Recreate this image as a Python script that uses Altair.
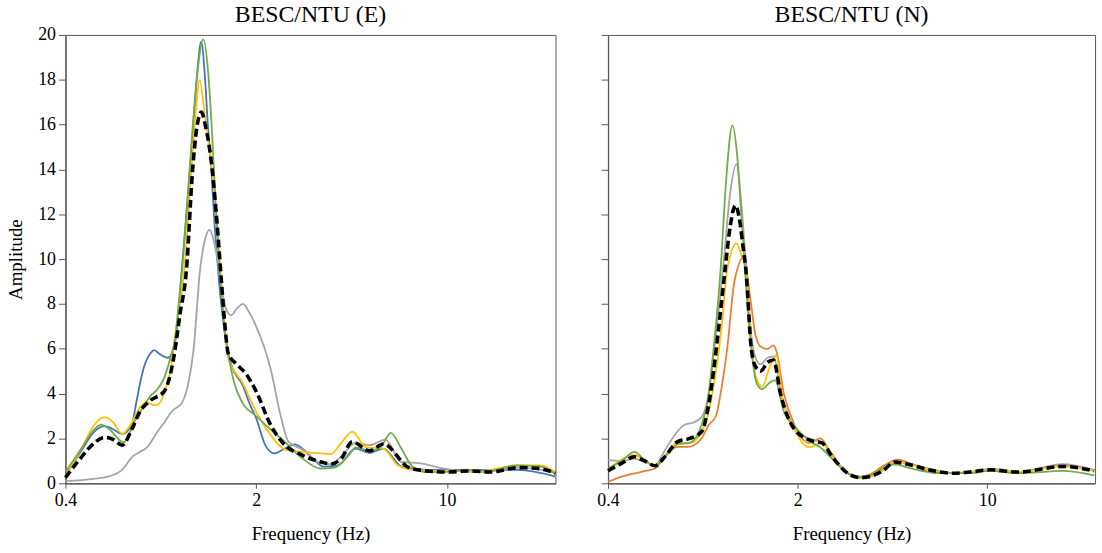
import altair as alt
import pandas as pd

# ---------------- data ----------------
# Panel E
E_blue_f = [0.40, 0.46, 0.51, 0.556, 0.60, 0.645, 0.70, 0.727, 0.772, 0.82, 0.845, 0.89, 0.95, 1.01, 1.06, 1.11, 1.17, 1.21, 1.258, 1.30, 1.33, 1.37, 1.40, 1.44, 1.48, 1.53, 1.58, 1.63, 1.78, 1.9, 2.0, 2.16, 2.33, 2.55, 2.77, 3.0, 3.23, 3.54, 3.99, 4.63, 5.21, 5.85, 6.81, 8.43, 11.4, 18.3, 25.0]
E_blue_a = [0.35, 1.5, 2.3, 2.55, 2.4, 2.2, 2.6, 3.6, 5.1, 5.8, 5.94, 5.75, 5.6, 6.3, 9.1, 12.0, 15.5, 18.0, 19.7, 18.0, 16.0, 14.0, 12.0, 10.0, 8.3, 6.8, 5.8, 5.2, 4.4, 3.5, 2.9, 1.7, 1.33, 1.55, 1.74, 1.48, 1.1, 0.74, 0.8, 1.55, 1.35, 1.55, 0.75, 0.6, 0.6, 0.6, 0.3]

E_green_f = [0.40, 0.46, 0.51, 0.54, 0.58, 0.654, 0.72, 0.77, 0.82, 0.87, 0.92, 0.97, 1.01, 1.04, 1.07, 1.14, 1.20, 1.28, 1.33, 1.38, 1.42, 1.47, 1.52, 1.58, 1.66, 1.78, 2.0, 2.26, 2.55, 2.96, 3.44, 3.87, 4.37, 4.63, 5.21, 5.7, 6.23, 6.81, 7.48, 8.43, 9.8, 12.1, 14.4, 17.8, 21.96, 25.0]
E_green_a = [0.5, 1.6, 2.4, 2.62, 2.4, 1.82, 2.8, 3.4, 3.9, 4.2, 4.7, 5.6, 6.5, 8.0, 9.5, 14.0, 17.5, 19.8, 18.5, 15.5, 12.5, 9.5, 7.3, 5.8, 4.5, 3.6, 3.0, 2.4, 1.85, 1.1, 0.66, 0.7, 1.25, 1.6, 1.45, 1.6, 2.25, 1.55, 0.74, 0.5, 0.5, 0.6, 0.55, 0.8, 0.75, 0.4]

E_yellow_f = [0.40, 0.46, 0.51, 0.556, 0.60, 0.645, 0.70, 0.75, 0.795, 0.84, 0.87, 0.92, 0.97, 1.02, 1.09, 1.15, 1.20, 1.24, 1.30, 1.38, 1.44, 1.49, 1.53, 1.58, 1.78, 2.0, 2.26, 2.55, 2.96, 3.44, 3.76, 4.1, 4.5, 5.06, 5.85, 6.61, 7.48, 9.8, 13.2, 18.3, 21.96, 25.0]
E_yellow_a = [0.3, 1.6, 2.6, 2.95, 2.7, 2.2, 2.7, 3.4, 3.6, 3.5, 3.5, 4.0, 5.0, 7.0, 9.5, 13.5, 16.5, 18.0, 16.3, 13.8, 11.3, 9.0, 7.2, 5.6, 4.5, 3.2, 2.15, 1.5, 1.4, 1.33, 1.3, 1.8, 2.3, 1.6, 1.55, 0.8, 0.6, 0.55, 0.55, 0.8, 0.8, 0.5]

E_gray_f = [0.40, 0.508, 0.573, 0.645, 0.706, 0.75, 0.795, 0.87, 0.92, 0.98, 1.07, 1.13, 1.18, 1.245, 1.30, 1.35, 1.40, 1.45, 1.50, 1.56, 1.62, 1.70, 1.79, 1.89, 2.0, 2.26, 2.46, 2.63, 2.96, 3.44, 3.76, 4.1, 4.63, 5.21, 5.95, 6.81, 7.93, 9.8, 13.2, 18.3, 25.0]
E_gray_a = [0.1, 0.2, 0.3, 0.6, 1.2, 1.4, 1.6, 2.3, 2.7, 3.2, 3.6, 4.5, 6.0, 9.5, 10.9, 11.3, 10.8, 9.8, 8.6, 7.7, 7.5, 7.8, 8.0, 7.6, 7.0, 5.1, 3.0, 1.85, 1.5, 0.9, 0.85, 1.2, 1.8, 1.7, 1.95, 0.95, 0.9, 0.65, 0.5, 0.7, 0.5]

E_mean_f = [0.40, 0.46, 0.51, 0.556, 0.60, 0.645, 0.70, 0.75, 0.82, 0.92, 1.01, 1.05, 1.11, 1.17, 1.21, 1.26, 1.30, 1.38, 1.44, 1.49, 1.53, 1.58, 1.70, 1.83, 2.0, 2.26, 2.55, 2.96, 3.44, 3.76, 4.1, 4.5, 5.21, 5.85, 7.26, 8.43, 10.0, 12.1, 14.4, 18.3, 21.96, 25.0]
E_mean_a = [0.25, 1.2, 1.8, 2.05, 1.95, 1.7, 2.4, 3.2, 3.7, 4.1, 6.0, 7.5, 9.5, 14.0, 15.8, 16.56, 16.0, 14.0, 11.5, 9.1, 7.3, 5.8, 5.3, 4.9, 4.1, 2.6, 1.7, 1.25, 0.96, 0.86, 1.1, 1.85, 1.45, 1.75, 0.7, 0.55, 0.5, 0.55, 0.5, 0.7, 0.65, 0.45]

# Panel N
N_orange_f = [0.40, 0.45, 0.50, 0.55, 0.596, 0.65, 0.72, 0.787, 0.885, 0.94, 1.0, 1.04, 1.10, 1.17, 1.27, 1.33, 1.40, 1.46, 1.55, 1.63, 1.67, 1.78, 1.95, 2.2, 2.43, 2.61, 3.02, 3.4, 3.7, 4.17, 4.69, 5.4, 6.4, 7.48, 10.3, 13.0, 19.0, 24.8]
N_orange_a = [0.07, 0.3, 0.44, 0.55, 0.66, 1.2, 1.62, 1.62, 2.0, 2.6, 3.0, 4.0, 6.0, 9.0, 10.1, 8.5, 6.6, 6.1, 6.0, 6.15, 5.9, 4.0, 2.6, 1.8, 2.0, 1.5, 0.5, 0.3, 0.4, 0.8, 1.05, 0.8, 0.45, 0.45, 0.55, 0.5, 0.8, 0.55]

N_yellow_f = [0.40, 0.50, 0.596, 0.72, 0.80, 0.885, 0.94, 1.0, 1.05, 1.10, 1.19, 1.24, 1.29, 1.35, 1.40, 1.48, 1.58, 1.67, 1.75, 1.95, 2.2, 2.46, 2.68, 3.02, 3.4, 3.7, 4.17, 4.55, 5.1, 6.1, 7.48, 8.6, 10.3, 13.0, 19.0, 24.8]
N_yellow_a = [0.6, 1.25, 0.78, 1.8, 1.8, 2.3, 3.2, 5.0, 7.0, 9.5, 10.7, 10.2, 9.5, 6.2, 4.8, 4.3, 5.2, 5.7, 4.0, 2.4, 1.6, 1.8, 1.2, 0.5, 0.25, 0.3, 0.6, 0.95, 0.85, 0.6, 0.45, 0.5, 0.6, 0.5, 0.75, 0.55]

N_green_f = [0.40, 0.45, 0.50, 0.545, 0.596, 0.65, 0.72, 0.80, 0.885, 0.94, 0.98, 1.04, 1.09, 1.15, 1.20, 1.24, 1.28, 1.35, 1.42, 1.48, 1.58, 1.65, 1.78, 2.0, 2.2, 2.43, 2.68, 3.02, 3.4, 3.7, 4.17, 4.55, 5.1, 6.1, 7.48, 8.6, 10.3, 13.0, 19.0, 24.8]
N_green_a = [0.66, 1.0, 1.4, 1.05, 0.78, 1.2, 1.73, 1.8, 2.6, 4.0, 6.0, 9.5, 13.5, 15.96, 14.5, 12.0, 9.5, 6.0, 4.4, 4.2, 4.5, 4.6, 3.2, 2.4, 1.9, 1.6, 1.1, 0.5, 0.25, 0.35, 0.7, 0.85, 0.7, 0.5, 0.45, 0.45, 0.55, 0.45, 0.55, 0.35]

N_gray_f = [0.40, 0.45, 0.50, 0.545, 0.596, 0.65, 0.72, 0.764, 0.82, 0.885, 0.94, 0.98, 1.03, 1.07, 1.13, 1.19, 1.24, 1.29, 1.35, 1.40, 1.46, 1.55, 1.63, 1.73, 1.95, 2.25, 2.46, 2.68, 3.02, 3.4, 3.7, 4.17, 4.55, 5.1, 6.1, 7.48, 8.6, 10.3, 13.0, 19.0, 24.8]
N_gray_a = [1.03, 1.0, 1.1, 0.95, 0.8, 1.5, 2.3, 2.6, 2.7, 2.95, 4.0, 5.8, 8.0, 10.0, 13.0, 14.24, 12.5, 9.8, 6.6, 5.6, 5.3, 5.6, 5.65, 4.1, 2.5, 1.95, 1.85, 1.25, 0.5, 0.25, 0.3, 0.65, 1.0, 0.9, 0.65, 0.45, 0.5, 0.65, 0.5, 0.85, 0.6]

N_mean_f = [0.40, 0.45, 0.50, 0.545, 0.596, 0.65, 0.72, 0.80, 0.885, 0.94, 0.98, 1.025, 1.08, 1.13, 1.18, 1.22, 1.26, 1.29, 1.35, 1.40, 1.46, 1.55, 1.63, 1.73, 1.95, 2.25, 2.46, 2.68, 3.02, 3.4, 3.7, 4.17, 4.55, 5.1, 6.1, 7.48, 8.6, 10.3, 13.0, 19.0, 24.8]
N_mean_a = [0.56, 0.9, 1.18, 1.0, 0.78, 1.2, 1.85, 2.0, 2.3, 3.5, 5.0, 7.0, 9.5, 11.5, 12.4, 11.8, 10.5, 9.5, 6.0, 5.2, 5.0, 5.4, 5.5, 4.0, 2.4, 1.9, 1.8, 1.2, 0.5, 0.25, 0.3, 0.6, 0.95, 0.85, 0.6, 0.45, 0.5, 0.6, 0.5, 0.75, 0.55]

titles = ["BESC/NTU (E)", "BESC/NTU (N)"]
x_ticks = [0.4, 2, 10]
y_ticks = list(range(0, 21, 2))

series_names = ["blue", "orange", "gray", "yellow", "green"]
series_colors = ["#4472C4", "#ED7D31", "#A5A5A5", "#FFC000", "#70AD47"]

E_series = [("blue", E_blue_f, E_blue_a), ("gray", E_gray_f, E_gray_a),
            ("yellow", E_yellow_f, E_yellow_a), ("green", E_green_f, E_green_a)]
N_series = [("orange", N_orange_f, N_orange_a), ("gray", N_gray_f, N_gray_a),
            ("yellow", N_yellow_f, N_yellow_a), ("green", N_green_f, N_green_a)]


def frame(series):
    rows = []
    for name, fs, am in series:
        for i, (f, a) in enumerate(zip(fs, am)):
            rows.append({"series": name, "freq": f, "amp": a, "i": i})
    return pd.DataFrame(rows)


FONT = "Liberation Serif"
AX = "#595959"


def panel(series, mean_f, mean_a, title, show_y, width):
    df = frame(series)
    mean = pd.DataFrame({"freq": mean_f, "amp": mean_a, "i": range(len(mean_f))})
    x = alt.X("freq:Q",
              scale=alt.Scale(type="log", domain=[0.4, 25], nice=False),
              axis=alt.Axis(values=x_ticks, format="~g", title="Frequency (Hz)",
                            grid=False, tickSize=5, labelPadding=3,
                            labelFlush=False, titlePadding=16))
    if show_y:
        yax = alt.Axis(values=y_ticks, title="Amplitude", grid=False, tickSize=7,
                       labelPadding=3, titlePadding=12)
    else:
        # labels kept invisible so both panels have identical vertical bounds
        yax = alt.Axis(values=y_ticks, title=None, labelOpacity=0, grid=False,
                       tickSize=7, labelPadding=3)
    y = alt.Y("amp:Q", scale=alt.Scale(domain=[0, 20], nice=False), axis=yax)
    lines = alt.Chart(df).mark_line(strokeWidth=1.8, interpolate="monotone").encode(
        x=x, y=y,
        color=alt.Color("series:N", scale=alt.Scale(domain=series_names, range=series_colors),
                        legend=None),
        detail="series:N",
        order="i:Q",
    )
    meanl = alt.Chart(mean).mark_line(strokeWidth=3.6, color="black",
                                      strokeDash=[8, 4], interpolate="monotone").encode(
        x=x, y=y, order="i:Q")
    return alt.layer(lines, meanl).properties(
        width=width, height=452,
        title=alt.TitleParams(title, fontSize=24, font=FONT, fontWeight="normal",
                              color="black", offset=-1))


left = panel(E_series, E_mean_f, E_mean_a, titles[0], True, 494)
right = panel(N_series, N_mean_f, N_mean_a, titles[1], False, 491)

chart = alt.hconcat(left, right, spacing=16).configure_view(
    stroke=AX, strokeWidth=1
).configure_axis(
    labelFont=FONT, titleFont=FONT, labelFontSize=18, titleFontSize=19,
    labelColor="black", titleColor="black", titleFontWeight="normal",
    domainColor=AX, tickColor=AX, domainWidth=1.3
).properties(
    padding={"left": 6, "top": 0, "right": 0, "bottom": 0}
)

chart.save("out.html", embed_options={"renderer": "svg", "actions": False})
